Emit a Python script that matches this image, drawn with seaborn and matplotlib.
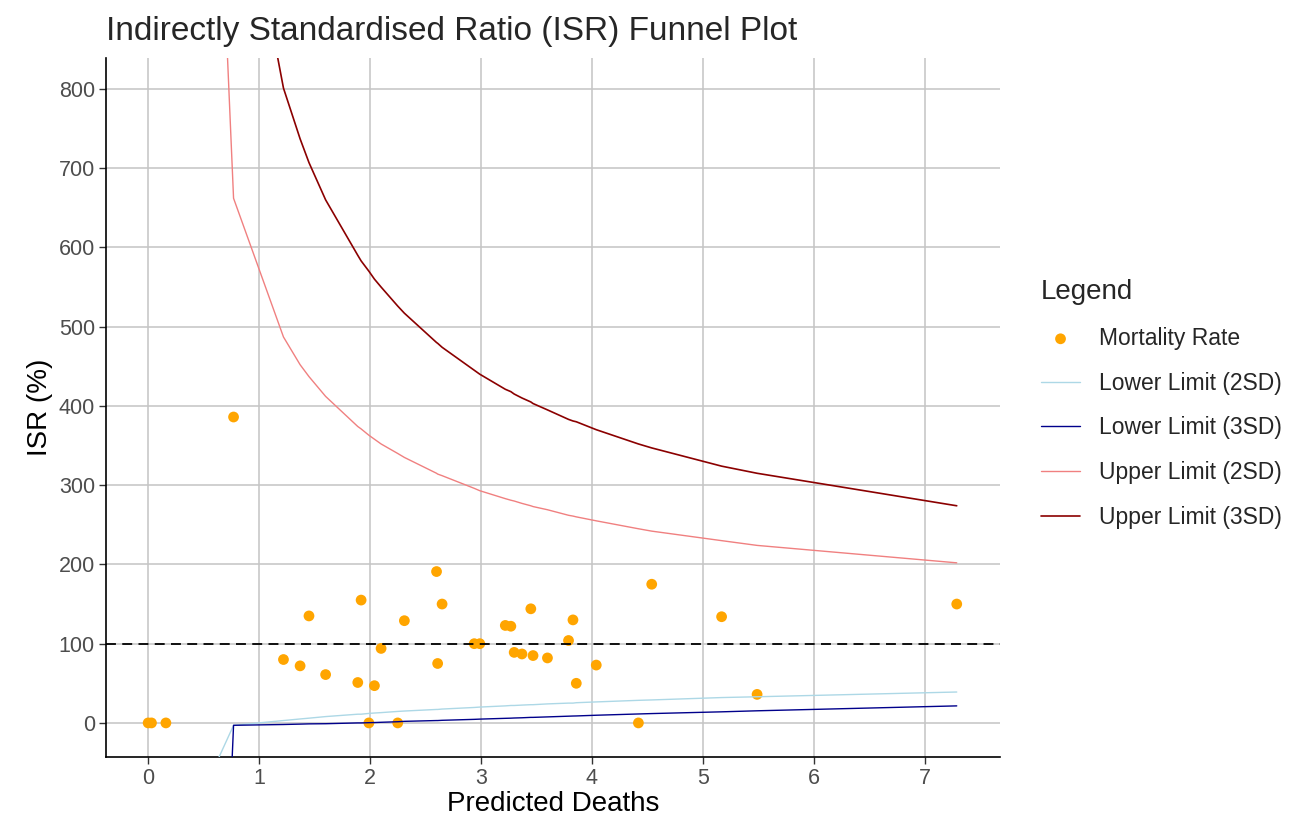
import matplotlib
matplotlib.use("Agg")
import matplotlib.pyplot as plt
import numpy as np
import pandas as pd
import seaborn as sns

# observed points: predicted deaths vs ISR (%)
pred_deaths = [0.00, 0.03, 0.16, 0.77, 1.22, 1.37, 1.45, 1.60, 1.89, 1.92, 1.99, 2.04,
               2.10, 2.25, 2.31, 2.60, 2.61, 2.65, 2.94, 2.99, 3.22, 3.27, 3.30, 3.37,
               3.45, 3.47, 3.60, 3.79, 3.83, 3.86, 4.04, 4.42, 4.54, 5.17, 5.49, 7.29]
isr = [0, 0, 0, 386, 80, 72, 135, 61, 51, 155, 0, 47,
       94, 0, 129, 191, 75, 150, 100, 100, 123, 122, 89, 87,
       144, 85, 82, 104, 130, 50, 73, 0, 175, 134, 36, 150]

# control limits read at the predicted deaths
limit_x = [0.16, 0.77, 1.22, 1.37, 1.45, 1.60, 1.89, 1.92, 1.99, 2.04, 2.10, 2.25,
           2.31, 2.60, 2.61, 2.65, 2.94, 2.99, 3.22, 3.27, 3.30, 3.37, 3.45, 3.47,
           3.60, 3.79, 3.83, 3.86, 4.04, 4.42, 4.54, 5.17, 5.49, 7.29]
lower_2sd = [-190, -3, 3, 5, 6, 8, 11, 11, 12, 12.5, 13, 14.5,
             15, 17, 17, 17.5, 19.5, 20, 21.5, 22, 22, 22.5, 23, 23,
             24, 25, 25, 25.5, 26.5, 28.5, 29, 32, 33, 39]
lower_3sd = [-2000, -3, -2, -1.5, -1.2, -1, 0, 0, 0.3, 0.5, 0.8, 1.5,
             2, 3, 3, 3.3, 4.5, 4.8, 5.8, 6, 6.2, 6.5, 7, 7,
             7.6, 8.5, 8.7, 8.8, 9.7, 11.3, 11.8, 14, 15.3, 21.5]
upper_2sd = [2650, 662, 487, 452, 437, 412, 374, 371, 363, 358, 352, 340,
             335, 315, 314, 312, 296, 293, 283, 281, 280, 277, 274, 273,
             269, 262, 261, 260, 255, 245, 242, 230, 224, 202]
upper_3sd = [7000, 1133, 801, 737, 707, 660, 590, 583, 570, 560, 550, 526,
             517, 480, 479, 474, 445, 440, 421, 418, 415, 410, 405, 403,
             395, 383, 381, 380, 370, 352, 347, 324, 315, 274]

points = pd.DataFrame({"Predicted Deaths": pred_deaths, "ISR": isr})
limits = pd.DataFrame({"x": limit_x, "l2": lower_2sd, "l3": lower_3sd,
                       "u2": upper_2sd, "u3": upper_3sd})

sns.set_theme(style="white")
plt.rcParams["font.family"] = ["Liberation Sans", "DejaVu Sans"]

fig = plt.figure(figsize=(12.94, 8.21), dpi=100)
ax = fig.add_axes([106 / 1294, 1 - 757 / 821, (1000 - 106) / 1294, (757 - 58) / 821])

sns.scatterplot(data=points, x="Predicted Deaths", y="ISR", color="#FFA500", s=60,
                edgecolor="none", label="Mortality Rate", ax=ax, zorder=3)
sns.lineplot(data=limits, x="x", y="l2", color="#ADD8E6", lw=1.0, estimator=None,
             label="Lower Limit (2SD)", ax=ax, zorder=4)
sns.lineplot(data=limits, x="x", y="l3", color="#00008B", lw=1.0, estimator=None,
             label="Lower Limit (3SD)", ax=ax, zorder=4)
sns.lineplot(data=limits, x="x", y="u2", color="#F08080", lw=1.0, estimator=None,
             label="Upper Limit (2SD)", ax=ax, zorder=4)
sns.lineplot(data=limits, x="x", y="u3", color="#8B0000", lw=1.2, estimator=None,
             label="Upper Limit (3SD)", ax=ax, zorder=4)
ax.axhline(100, color="black", lw=1.3, dashes=(5.5, 3.5), zorder=5)

ax.set_xlim(-0.38, 7.68)
ax.set_ylim(-43, 839)
ax.set_xticks(range(0, 8))
ax.set_yticks(range(0, 900, 100))
ax.grid(True, color="#C4C4C4", lw=1.1)
ax.set_axisbelow(True)
for side in ["top", "right"]:
    ax.spines[side].set_visible(False)
for side in ["left", "bottom"]:
    ax.spines[side].set_color("black")
    ax.spines[side].set_linewidth(1.2)
ax.tick_params(axis="both", which="major", length=5, width=1.0, color="#333333",
               labelsize=15.5, labelcolor="#4D4D4D", left=True, bottom=True, pad=3)

ax.set_xlabel("Predicted Deaths", fontsize=20, color="black", labelpad=1)
ax.set_ylabel("ISR (%)", fontsize=20, color="black", labelpad=4)
ax.set_title("Indirectly Standardised Ratio (ISR) Funnel Plot", fontsize=24,
             loc="left", x=0.0, pad=13)

handles, labels = ax.get_legend_handles_labels()
ax.legend_.remove()
leg = fig.legend(handles, labels, title="Legend", loc="upper left",
                 bbox_to_anchor=(1025 / 1294, 1 - 263 / 821), frameon=False,
                 fontsize=16.5, title_fontsize=20, handlelength=1.7,
                 handletextpad=0.85, labelspacing=0.95, borderpad=0.2,
                 alignment="left", markerscale=1.0)

fig.savefig("out.png", dpi=100)
